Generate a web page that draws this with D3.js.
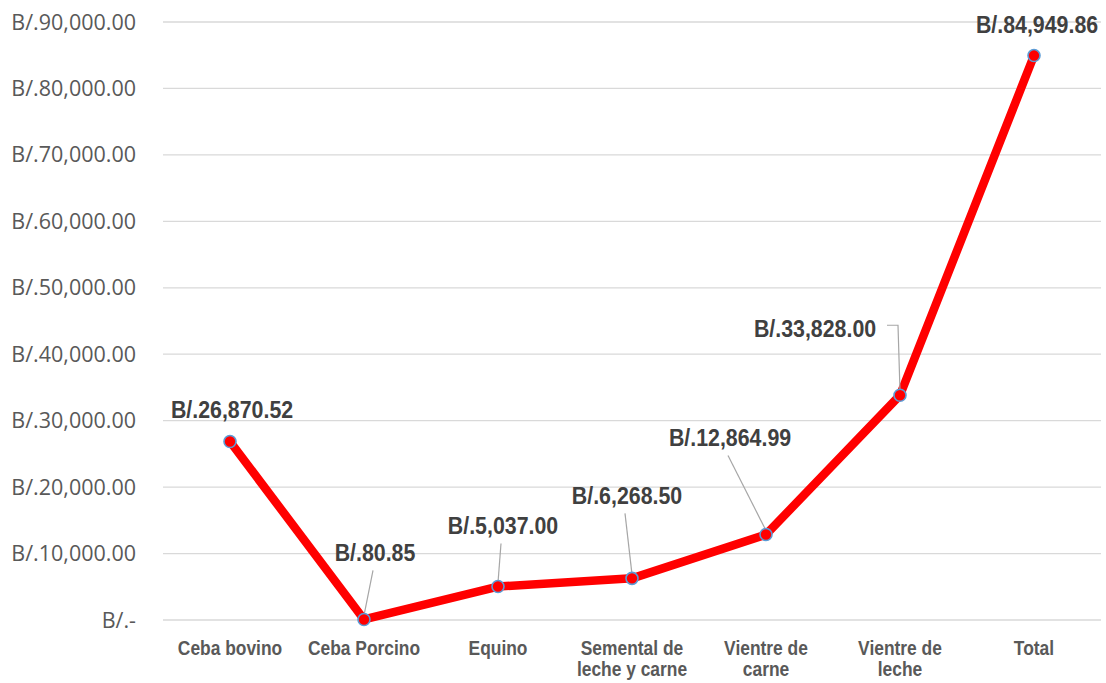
<!DOCTYPE html>
<html><head><meta charset="utf-8">
<script src="https://cdn.jsdelivr.net/npm/d3@7"></script>
<style>
body{margin:0;background:#fff;}
.narrow{font-family:"Liberation Sans",Arial,sans-serif;font-weight:bold;}
</style></head><body>
<svg id="chart" width="1106" height="683"></svg>
<script>
const categories = ["Ceba bovino","Ceba Porcino","Equino","Semental de leche y carne","Vientre de carne","Vientre de leche","Total"];
const categoryLines = [["Ceba bovino"],["Ceba Porcino"],["Equino"],["Semental de","leche y carne"],["Vientre de","carne"],["Vientre de","leche"],["Total"]];
const values = [26870.52, 80.85, 5037.00, 6268.50, 12864.99, 33828.00, 84949.86];
const valueLabels = ["B/.26,870.52","B/.80.85","B/.5,037.00","B/.6,268.50","B/.12,864.99","B/.33,828.00","B/.84,949.86"];
const yTicks = [0,10000,20000,30000,40000,50000,60000,70000,80000,90000];
const yTickLabels = ["B/.-","B/.10,000.00","B/.20,000.00","B/.30,000.00","B/.40,000.00","B/.50,000.00","B/.60,000.00","B/.70,000.00","B/.80,000.00","B/.90,000.00"];
// label placement offsets (layout only)
const labelOffsets = [[2,-32],[11,-67],[5,-61],[-5,-83],[-36,-97],[-85,-67],[3,-31]];
const leaderOn = [false,true,true,true,true,true,false];

const svg = d3.select("#chart");
const mLeft = 163, mRight = 1101, mTop = 22, mBottom = 620;
const x = d3.scaleBand().domain(d3.range(categories.length)).range([mLeft,mRight]);
const y = d3.scaleLinear().domain([0,90000]).range([mBottom,mTop]);
const cx = i => x(i)+x.bandwidth()/2;

// gridlines
svg.append("g").selectAll("line").data(yTicks).join("line")
  .attr("x1",mLeft).attr("x2",mRight)
  .attr("y1",d=>y(d)).attr("y2",d=>y(d))
  .attr("stroke","#d9d9d9").attr("stroke-width",1.3);

// y labels
svg.append("g").selectAll("text").data(yTicks).join("text")
  .attr("x",136).attr("y",d=>y(d)).attr("dy","0.35em")
  .attr("text-anchor","end")
  .attr("font-family","'Open Sans',sans-serif").attr("font-size",21.5)
  .attr("fill","#595959")
  .text((d,i)=>yTickLabels[i]);

// x labels
const xl = svg.append("g").selectAll("text").data(categoryLines).join("text")
  .attr("class","narrow")
  .attr("text-anchor","middle")
  .attr("font-size",20).attr("fill","#595959")
  .attr("transform",(d,i)=>`translate(${cx(i)},655) scale(0.87,1)`);
xl.selectAll("tspan").data(d=>d).join("tspan")
  .attr("x",0).attr("dy",(d,i)=>i===0?0:21).text(d=>d);

// line
svg.append("path").datum(values)
  .attr("d", d3.line().x((d,i)=>cx(i)).y(d=>y(d)))
  .attr("fill","none").attr("stroke","#ff0000").attr("stroke-width",8.5)
  .attr("stroke-linejoin","round");

// leader lines
const leaderG = svg.append("g");
values.forEach((v,i)=>{
  if(!leaderOn[i]) return;
  const px = cx(i), py = y(v);
  const lx = px + labelOffsets[i][0], ly = py + labelOffsets[i][1];
  let pts;
  if (i===5) {
    pts = [[lx+72,ly-3],[px-2,ly-3],[px,py-4]];
  } else {
    pts = [[lx-2,ly+18],[px,py-4]];
  }
  leaderG.append("path").attr("d", d3.line()(pts))
    .attr("fill","none").attr("stroke","#a6a6a6").attr("stroke-width",1.2);
});

// markers
svg.append("g").selectAll("circle").data(values).join("circle")
  .attr("cx",(d,i)=>cx(i)).attr("cy",d=>y(d)).attr("r",6)
  .attr("fill","#ff0000").attr("stroke","#5b9bd5").attr("stroke-width",1.6);

// data labels
svg.append("g").selectAll("text").data(values).join("text")
  .attr("class","narrow")
  .attr("transform",(d,i)=>`translate(${cx(i)+labelOffsets[i][0]},${y(d)+labelOffsets[i][1]}) scale(0.89,1)`)
  .attr("dy","0.35em").attr("text-anchor","middle")
  .attr("font-size",24).attr("fill","#404040")
  .text((d,i)=>valueLabels[i]);
</script></body></html>
